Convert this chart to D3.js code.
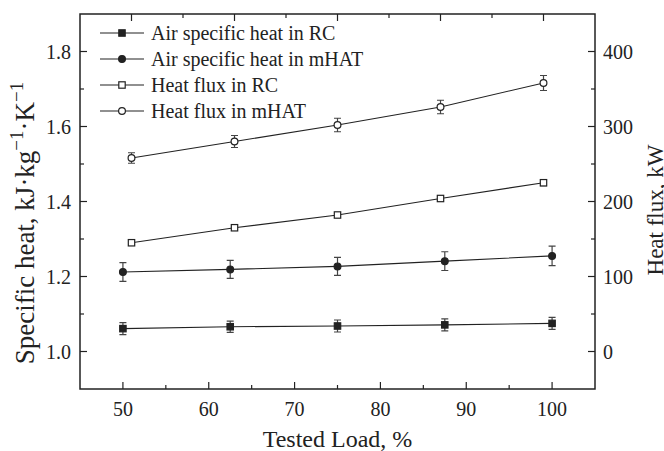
<!DOCTYPE html>
<html>
<head>
<meta charset="utf-8">
<script src="https://cdn.jsdelivr.net/npm/d3@7"></script>
<style>
  body { margin: 0; background: #fff; }
  text { font-family: "Liberation Serif", "Times New Roman", serif; fill: #222; }
</style>
</head>
<body>
<svg width="664" height="451"></svg>
<script>
var loadAir = [50, 62.5, 75, 87.5, 100];
var airRC = [1.061, 1.066, 1.068, 1.071, 1.075];
var airRCErr = [0.016, 0.015, 0.016, 0.016, 0.016];
var airHAT = [1.212, 1.219, 1.227, 1.241, 1.255];
var airHATErr = [0.025, 0.024, 0.024, 0.025, 0.026];

var loadFlux = [51, 63, 75, 87, 99];
var fluxRC = [145, 165, 182, 204, 225];
var fluxRCErr = [2, 2, 2, 3, 4];
var fluxHAT = [258, 280, 302, 326, 358];
var fluxHATErr = [7, 8, 9, 9, 10];

var xTicks = [50, 60, 70, 80, 90, 100];
var yTicks = [1.0, 1.2, 1.4, 1.6, 1.8];
var y2Ticks = [0, 100, 200, 300, 400];
var legendNames = ["Air specific heat in RC", "Air specific heat in mHAT", "Heat flux in RC", "Heat flux in mHAT"];

var svg = d3.select("svg");
var pL = 80, pR = 595, pT = 14, pB = 389;
var ink = "#222";

var x = d3.scaleLinear().domain([45, 105]).range([pL, pR]);
var y = d3.scaleLinear().domain([0.9, 1.9]).range([pB, pT]);
var y2 = d3.scaleLinear().domain([-50, 450]).range([pB, pT]);

// frame
svg.append("rect")
  .attr("x", pL).attr("y", pT)
  .attr("width", pR - pL).attr("height", pB - pT)
  .attr("fill", "none").attr("stroke", ink).attr("stroke-width", 1.5);

// ticks, all pointing inward
function ticks(vals, pos, side, len) {
  var horiz = side == "b" || side == "t";
  svg.append("g").selectAll("line").data(vals).enter().append("line")
    .attr("stroke", ink).attr("stroke-width", 1.2)
    .attr("x1", function(d) { return horiz ? pos(d) : (side == "l" ? pL : pR); })
    .attr("x2", function(d) { return horiz ? pos(d) : (side == "l" ? pL + len : pR - len); })
    .attr("y1", function(d) { return !horiz ? pos(d) : (side == "b" ? pB : pT); })
    .attr("y2", function(d) { return !horiz ? pos(d) : (side == "b" ? pB - len : pT + len); });
}
ticks(xTicks, x, "b", 7);
ticks([55, 65, 75, 85, 95], x, "b", 4);
ticks(loadFlux, x, "t", 7);
ticks(d3.pairs(loadFlux).map(function(p) { return (p[0] + p[1]) / 2; }), x, "t", 4);
ticks(yTicks, y, "l", 7);
ticks([1.1, 1.3, 1.5, 1.7], y, "l", 4);
ticks(y2Ticks, y2, "r", 7);
ticks([50, 150, 250, 350], y2, "r", 4);

// tick labels
svg.append("g").selectAll("text").data(xTicks).enter().append("text")
  .attr("x", function(d) { return x(d); }).attr("y", 416)
  .attr("text-anchor", "middle").attr("font-size", 20)
  .text(function(d) { return d; });
svg.append("g").selectAll("text").data(yTicks).enter().append("text")
  .attr("x", pL - 9).attr("y", function(d) { return y(d) + 7; })
  .attr("text-anchor", "end").attr("font-size", 20)
  .text(function(d) { return d3.format(".1f")(d); });
svg.append("g").selectAll("text").data(y2Ticks).enter().append("text")
  .attr("x", pR + 8).attr("y", function(d) { return y2(d) + 7; })
  .attr("font-size", 20)
  .text(function(d) { return d; });

// axis titles
svg.append("text")
  .attr("x", (pL + pR) / 2).attr("y", 447)
  .attr("text-anchor", "middle").attr("font-size", 24)
  .text("Tested Load, %");

var yt = svg.append("text")
  .attr("transform", "translate(34,223) rotate(-90)")
  .attr("text-anchor", "middle").attr("font-size", 27);
yt.append("tspan").text("Specific heat, kJ·kg");
yt.append("tspan").attr("dy", -11).attr("font-size", 19).text("−1");
yt.append("tspan").attr("dy", 11).text("·K");
yt.append("tspan").attr("dy", -11).attr("font-size", 19).text("−1");

svg.append("text")
  .attr("transform", "translate(663,210) rotate(-90)")
  .attr("text-anchor", "middle").attr("font-size", 23)
  .text("Heat flux, kW");

// series
var series = [
  { xs: loadAir, ys: airRC, err: airRCErr, sc: y, shape: "square", fill: ink },
  { xs: loadAir, ys: airHAT, err: airHATErr, sc: y, shape: "circle", fill: ink },
  { xs: loadFlux, ys: fluxRC, err: fluxRCErr, sc: y2, shape: "square", fill: "#fff" },
  { xs: loadFlux, ys: fluxHAT, err: fluxHATErr, sc: y2, shape: "circle", fill: "#fff" }
];

var line = d3.line();

function marker(g, shape, fill, cx, cy) {
  if (shape == "square") {
    g.append("rect").attr("x", cx - 3.2).attr("y", cy - 3.2)
      .attr("width", 6.4).attr("height", 6.4)
      .attr("fill", fill).attr("stroke", ink).attr("stroke-width", 1.2);
  } else {
    g.append("circle").attr("cx", cx).attr("cy", cy).attr("r", 3.4)
      .attr("fill", fill).attr("stroke", ink).attr("stroke-width", 1.2);
  }
}

series.forEach(function(s) {
  var pts = s.xs.map(function(d, i) { return [x(d), s.sc(s.ys[i])]; });
  var g = svg.append("g");
  g.append("path").attr("d", line(pts))
    .attr("fill", "none").attr("stroke", ink).attr("stroke-width", 1.1);
  s.xs.forEach(function(d, i) {
    var cx = x(d), hi = s.sc(s.ys[i] + s.err[i]), lo = s.sc(s.ys[i] - s.err[i]);
    g.append("path")
      .attr("d", "M" + (cx - 3.5) + "," + hi + "H" + (cx + 3.5) + "M" + cx + "," + hi + "V" + lo + "M" + (cx - 3.5) + "," + lo + "H" + (cx + 3.5))
      .attr("fill", "none").attr("stroke", "#444").attr("stroke-width", 1.2);
  });
  pts.forEach(function(p) { marker(g, s.shape, s.fill, p[0], p[1]); });
});

// legend
var legend = svg.append("g");
legendNames.forEach(function(name, i) {
  var ly = 33 + i * 26;
  legend.append("line").attr("x1", 100).attr("x2", 144).attr("y1", ly).attr("y2", ly)
    .attr("stroke", ink).attr("stroke-width", 1.1);
  marker(legend, series[i].shape, series[i].fill, 122, ly);
  legend.append("text").attr("x", 151).attr("y", ly + 7)
    .attr("font-size", 20).text(name);
});
</script>
</body>
</html>
